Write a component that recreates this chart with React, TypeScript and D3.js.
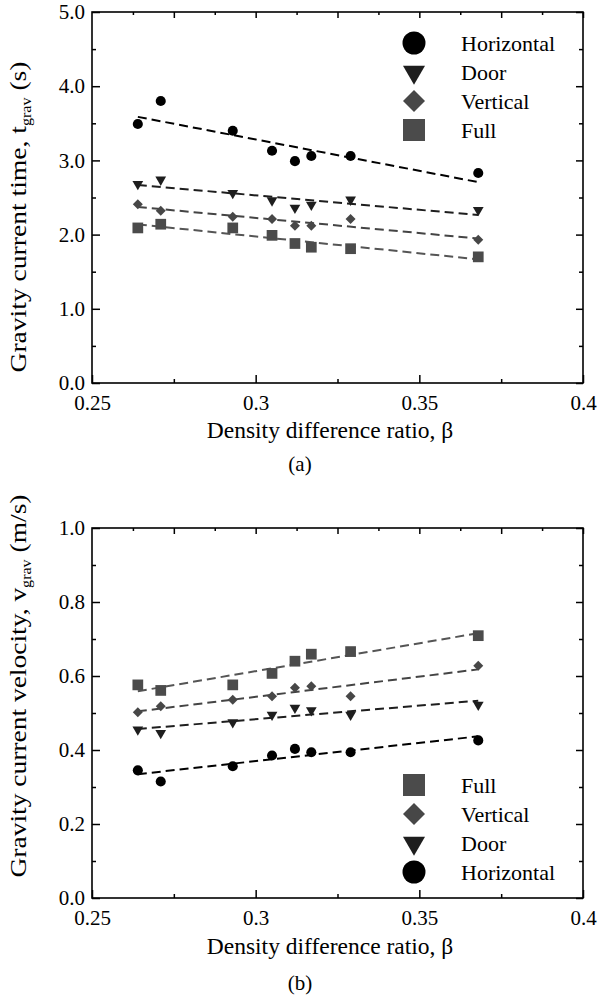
import React, { useEffect, useRef } from 'react';
import * as d3 from 'd3';

// density difference ratio (shared x values)
const beta = [0.264, 0.271, 0.293, 0.305, 0.312, 0.317, 0.329, 0.368];

// (a) gravity current time, s
const timeHorizontal = [3.49, 3.8, 3.4, 3.13, 2.99, 3.06, 3.06, 2.83];
const timeDoor = [2.68, 2.74, 2.56, 2.46, 2.36, 2.4, 2.47, 2.33];
const timeVertical = [2.41, 2.32, 2.24, 2.21, 2.12, 2.12, 2.21, 1.93];
const timeFull = [2.09, 2.14, 2.09, 1.99, 1.88, 1.83, 1.81, 1.7];

// (b) gravity current velocity, m/s
const velFull = [0.576, 0.561, 0.576, 0.607, 0.64, 0.659, 0.666, 0.709];
const velVertical = [0.502, 0.518, 0.536, 0.545, 0.568, 0.572, 0.545, 0.628];
const velDoor = [0.455, 0.446, 0.475, 0.495, 0.514, 0.507, 0.495, 0.522];
const velHorizontal = [0.345, 0.315, 0.356, 0.385, 0.403, 0.394, 0.394, 0.426];

const xLabelTicks = [0.25, 0.3, 0.35, 0.4];
const timeLabelTicks = [0, 1, 2, 3, 4, 5];
const velLabelTicks = [0, 0.2, 0.4, 0.6, 0.8, 1.0];

const FONT = "'Times New Roman', 'Liberation Serif', serif";

const styles = {
  Horizontal: { fill: '#000', line: '#000', shape: 'circle' },
  Door: { fill: '#1e1e1e', line: '#1e1e1e', shape: 'triangle' },
  Vertical: { fill: '#474747', line: '#444', shape: 'diamond' },
  Full: { fill: '#4b4b4b', line: '#555', shape: 'square' },
};

const markerPath = (shape, big) => {
  if (shape === 'circle') return d3.symbol(d3.symbolCircle, big ? 415 : 80)();
  if (shape === 'square') return d3.symbol(d3.symbolSquare, big ? 484 : 115)();
  if (shape === 'triangle') return d3.symbol(d3.symbolTriangle, big ? 210 : 50)();
  return d3.symbol(d3.symbolSquare, big ? 243 : 50)();
};
const markerRot = (shape) => (shape === 'triangle' ? 180 : shape === 'diamond' ? 45 : 0);

// least-squares line through a series
const fit = (xs, ys) => {
  const mx = d3.mean(xs), my = d3.mean(ys);
  const sxy = d3.sum(xs, (x, i) => (x - mx) * (ys[i] - my));
  const sxx = d3.sum(xs, (x) => (x - mx) ** 2);
  const k = sxy / sxx;
  return (x) => my + k * (x - mx);
};

function drawPanel(svg, cfg) {
  const { top, bottom, left, right, yMax, yStep, yLabels, series, legend, legendTop, yTitle, yUnit, yVar, yTitleY, yTitleLen, caption, titleY, captionY } = cfg;
  const x = d3.scaleLinear().domain([0.25, 0.4]).range([left, right]);
  const y = d3.scaleLinear().domain([0, yMax]).range([bottom, top]);
  const g = svg.append('g');

  const minorX25 = d3.range(0.275, 0.4, 0.05);
  const fineX = d3.range(0, 12).map((i) => 0.2625 + i * 0.0125);
  const yAll = d3.range(0, Math.round(yMax / yStep) + 1).map((i) => i * yStep);
  const yMinor = yAll.filter((v) => !yLabels.some((l) => Math.abs(l - v) < 1e-9));

  const styleAxis = (sel) => {
    sel.select('.domain').remove();
    sel.selectAll('line').attr('stroke', '#000').attr('stroke-width', 1.5);
    sel.selectAll('text').attr('font-family', FONT).attr('font-size', 21).attr('fill', '#000');
  };

  // bottom axis
  g.append('g').attr('transform', `translate(0,${bottom})`)
    .call(d3.axisBottom(x).tickValues(xLabelTicks).tickSize(-8).tickPadding(12).tickFormat((d) => String(d)))
    .call(styleAxis);
  g.append('g').attr('transform', `translate(0,${bottom})`)
    .call(d3.axisBottom(x).tickValues(minorX25).tickSize(-4).tickFormat(''))
    .call(styleAxis);
  // top axis
  g.append('g').attr('transform', `translate(0,${top})`)
    .call(d3.axisTop(x).tickValues(fineX.filter((v, i) => i % 2 === 1)).tickSize(-6).tickFormat(''))
    .call(styleAxis);
  g.append('g').attr('transform', `translate(0,${top})`)
    .call(d3.axisTop(x).tickValues(fineX.filter((v, i) => i % 2 === 0)).tickSize(-3).tickFormat(''))
    .call(styleAxis);
  // left axis
  g.append('g').attr('transform', `translate(${left},0)`)
    .call(d3.axisLeft(y).tickValues(yLabels).tickSize(-8).tickPadding(7).tickFormat(d3.format('.1f')))
    .call(styleAxis);
  g.append('g').attr('transform', `translate(${left},0)`)
    .call(d3.axisLeft(y).tickValues(yMinor).tickSize(-4).tickFormat(''))
    .call(styleAxis);
  // right axis
  g.append('g').attr('transform', `translate(${right},0)`)
    .call(d3.axisRight(y).tickValues(yLabels).tickSize(-7).tickFormat(''))
    .call(styleAxis);
  g.append('g').attr('transform', `translate(${right},0)`)
    .call(d3.axisRight(y).tickValues(yMinor).tickSize(-4).tickFormat(''))
    .call(styleAxis);

  // frame
  g.append('rect').attr('x', left).attr('y', top).attr('width', right - left).attr('height', bottom - top)
    .attr('fill', 'none').attr('stroke', '#000').attr('stroke-width', 1.6);

  // fit lines and markers
  series.forEach(([name, vals]) => {
    const st = styles[name];
    const f = fit(beta, vals);
    const x0 = beta[0], x1 = beta[beta.length - 1];
    g.append('line')
      .attr('x1', x(x0)).attr('y1', y(f(x0))).attr('x2', x(x1)).attr('y2', y(f(x1)))
      .attr('stroke', st.line).attr('stroke-width', 2).attr('stroke-dasharray', '9,5');
  });
  series.forEach(([name, vals]) => {
    const st = styles[name];
    g.append('g').selectAll('path').data(vals).enter().append('path')
      .attr('d', markerPath(st.shape, false))
      .attr('transform', (d, i) => `translate(${x(beta[i])},${y(d)}) rotate(${markerRot(st.shape)})`)
      .attr('fill', st.fill);
  });

  // legend
  legend.forEach((name, i) => {
    const st = styles[name];
    const ly = legendTop + i * 29;
    g.append('path').attr('d', markerPath(st.shape, true))
      .attr('transform', `translate(414,${ly}) rotate(${markerRot(st.shape)})`)
      .attr('fill', st.fill);
    g.append('text').attr('x', 461).attr('y', ly).attr('dy', '0.35em')
      .attr('font-family', FONT).attr('font-size', 22).text(name);
  });

  // axis titles
  g.append('text').attr('x', 330).attr('y', titleY).attr('text-anchor', 'middle')
    .attr('font-family', FONT).attr('font-size', 23.5).text('Density difference ratio, β');
  g.append('text').attr('x', 300).attr('y', captionY).attr('text-anchor', 'middle')
    .attr('font-family', FONT).attr('font-size', 21).text(caption);

  const yt = g.append('text')
    .attr('transform', `translate(26,${yTitleY}) rotate(-90)`)
    .attr('text-anchor', 'middle')
    .attr('font-family', FONT).attr('font-size', 24)
    .attr('textLength', yTitleLen).attr('lengthAdjust', 'spacingAndGlyphs');
  yt.append('tspan').text(yTitle + ' ' + yVar);
  yt.append('tspan').attr('font-size', 14).attr('dy', 5).text('grav');
  yt.append('tspan').attr('dy', -5).text(' ' + yUnit);
}

const App = () => {
  const svgRef = useRef(null);

  useEffect(() => {
    const svg = d3.select(svgRef.current);
    svg.selectAll('*').remove();

    drawPanel(svg, {
      top: 12, bottom: 383, left: 92, right: 583,
      yMax: 5, yStep: 0.5, yLabels: timeLabelTicks,
      series: [['Full', timeFull], ['Vertical', timeVertical], ['Door', timeDoor], ['Horizontal', timeHorizontal]],
      legend: ['Horizontal', 'Door', 'Vertical', 'Full'], legendTop: 43,
      yTitle: 'Gravity current time,', yVar: 't', yUnit: '(s)', yTitleY: 217, yTitleLen: 311,
      titleY: 438, caption: '(a)', captionY: 471,
    });
    drawPanel(svg, {
      top: 528, bottom: 898, left: 92, right: 583,
      yMax: 1, yStep: 0.1, yLabels: velLabelTicks,
      series: [['Full', velFull], ['Vertical', velVertical], ['Door', velDoor], ['Horizontal', velHorizontal]],
      legend: ['Full', 'Vertical', 'Door', 'Horizontal'], legendTop: 785,
      yTitle: 'Gravity current velocity,', yVar: 'v', yUnit: '(m/s)', yTitleY: 686, yTitleLen: 383,
      titleY: 954, caption: '(b)', captionY: 990,
    });
  }, []);

  return (
    <svg ref={svgRef} width={599} height={998}
      style={{ position: 'absolute', left: 0, top: 0, background: '#fff' }} />
  );
};

export default App;
